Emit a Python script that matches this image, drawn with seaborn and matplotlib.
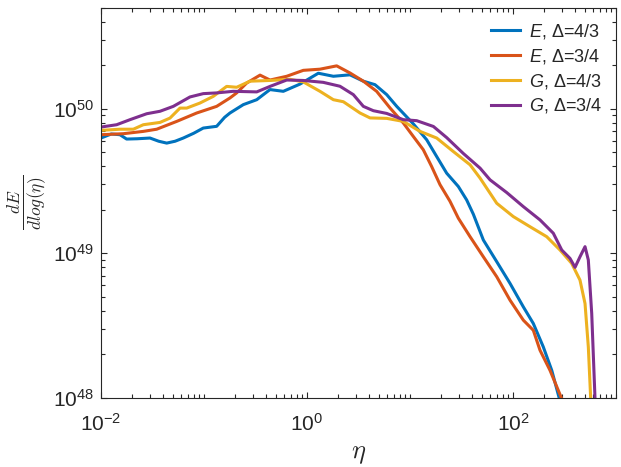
"""Energy spectrum dE/dlog(eta) for the four E/G runs
"""

import numpy as np
import pandas as pd
import matplotlib
matplotlib.use("Agg")
import matplotlib.pyplot as plt
from matplotlib.ticker import LogLocator, NullFormatter
import seaborn as sns

# series names (legend order)
series = [r"$E$, Δ=4/3", r"$E$, Δ=3/4", r"$G$, Δ=4/3", r"$G$, Δ=3/4"]
colors = ["#0072BD", "#D95319", "#EDB120", "#7E2F8E"]

# values, as log10(eta) and log10(dE/dlog eta)
e43_logx = [-2.0, -1.90, -1.816, -1.751, -1.65, -1.524, -1.44, -1.362, -1.28, -1.201,
            -1.10, -1.007, -0.877, -0.80, -0.748, -0.618, -0.488, -0.40, -0.359, -0.23,
            -0.068, 0.11, 0.256, 0.417, 0.547, 0.66, 0.774, 0.871, 1.032, 1.162,
            1.259, 1.356, 1.469, 1.55, 1.615, 1.712, 1.842, 1.971, 2.1, 2.197,
            2.294, 2.376, 2.45, 2.47]
e43_logy = [49.797, 49.825, 49.82, 49.79, 49.792, 49.797, 49.775, 49.762, 49.775, 49.797,
            49.83, 49.866, 49.878, 49.94, 49.97, 50.028, 50.062, 50.11, 50.132, 50.12,
            50.17, 50.245, 50.224, 50.234, 50.19, 50.166, 50.097, 50.016, 49.895, 49.785,
            49.669, 49.554, 49.462, 49.369, 49.27, 49.092, 48.942, 48.792, 48.63, 48.515,
            48.353, 48.191, 47.995, 47.9]

e34_logx = [-2.0, -1.783, -1.589, -1.459, -1.265, -1.071, -0.877, -0.748, -0.683, -0.586,
            -0.456, -0.359, -0.197, -0.036, 0.126, 0.288, 0.417, 0.547, 0.676, 0.806,
            0.935, 1.032, 1.129, 1.21, 1.291, 1.388, 1.469, 1.583, 1.712, 1.842,
            1.971, 2.1, 2.197, 2.262, 2.359, 2.473, 2.49]
e34_logy = [49.82, 49.827, 49.843, 49.858, 49.912, 49.97, 50.016, 50.074, 50.109, 50.177,
            50.232, 50.198, 50.224, 50.265, 50.273, 50.296, 50.247, 50.19, 50.12, 50.005,
            49.901, 49.808, 49.716, 49.6, 49.475, 49.36, 49.243, 49.115, 48.976, 48.838,
            48.676, 48.538, 48.468, 48.33, 48.191, 47.995, 47.9]

g43_logx = [-2.0, -1.816, -1.686, -1.589, -1.427, -1.33, -1.233, -1.168, -1.039, -0.91,
            -0.78, -0.683, -0.553, -0.359, -0.165, -0.036, 0.126, 0.256, 0.353, 0.515,
            0.612, 0.774, 0.935, 1.097, 1.259, 1.42, 1.583, 1.68, 1.842, 2.003,
            2.165, 2.327, 2.456, 2.569, 2.65, 2.699, 2.731, 2.754, 2.76]
g43_logy = [49.85, 49.858, 49.858, 49.889, 49.905, 49.935, 50.004, 50.004, 50.039, 50.085,
            50.154, 50.148, 50.19, 50.195, 50.203, 50.185, 50.12, 50.062, 50.048, 49.97,
            49.936, 49.933, 49.912, 49.843, 49.797, 49.704, 49.612, 49.52, 49.346, 49.254,
            49.184, 49.115, 49.023, 48.931, 48.815, 48.653, 48.353, 47.995, 47.9]

g34_logx = [-2.0, -1.848, -1.718, -1.556, -1.427, -1.298, -1.136, -1.007, -0.877, -0.716,
            -0.488, -0.359, -0.197, -0.036, 0.158, 0.32, 0.45, 0.547, 0.644, 0.774,
            0.935, 1.065, 1.227, 1.356, 1.518, 1.68, 1.777, 1.939, 2.1, 2.262,
            2.391, 2.473, 2.553, 2.602, 2.65, 2.699, 2.731, 2.764, 2.796, 2.80]
g34_logy = [49.873, 49.889, 49.924, 49.965, 49.982, 50.016, 50.081, 50.104, 50.109, 50.12,
            50.116, 50.154, 50.198, 50.195, 50.182, 50.155, 50.097, 50.016, 49.986, 49.967,
            49.924, 49.917, 49.877, 49.8, 49.69, 49.589, 49.508, 49.42, 49.323, 49.231,
            49.139, 49.023, 48.965, 48.903, 48.976, 49.046, 48.954, 48.584, 47.995, 47.9]

# build a long-form table for seaborn
frames = []
for name, lx, ly in zip(series,
                        [e43_logx, e34_logx, g43_logx, g34_logx],
                        [e43_logy, e34_logy, g43_logy, g34_logy]):
    frames.append(pd.DataFrame({"eta": 10.0 ** np.array(lx),
                                "dE": 10.0 ** np.array(ly),
                                "run": name}))
df = pd.concat(frames, ignore_index=True)

plt.rcParams["font.family"] = ["Liberation Sans", "DejaVu Sans"]
plt.rcParams["mathtext.fontset"] = "custom"
plt.rcParams["mathtext.rm"] = "Liberation Sans"
plt.rcParams["mathtext.it"] = "Liberation Sans:italic"
axis_col = "#262626"

fig = plt.figure(figsize=(6.21, 4.67), dpi=100)
ax = fig.add_axes([0.1626, 0.1478, 0.8294, 0.836])

sns.lineplot(data=df, x="eta", y="dE", hue="run", hue_order=series,
             palette=colors, estimator=None, sort=False, linewidth=2.2, ax=ax)

ax.set_xscale("log")
ax.set_yscale("log")
ax.set_xlim(1e-2, 1e3)
ax.set_ylim(1e48, 5e50)

ax.xaxis.set_major_locator(LogLocator(base=100.0, numticks=10))
ax.xaxis.set_minor_locator(LogLocator(base=10.0, subs=np.arange(1, 10), numticks=20))
ax.xaxis.set_minor_formatter(NullFormatter())
ax.yaxis.set_major_locator(LogLocator(base=10.0, numticks=10))
ax.yaxis.set_minor_locator(LogLocator(base=10.0, subs=np.arange(2, 10), numticks=20))
ax.yaxis.set_minor_formatter(NullFormatter())

ax.tick_params(which="both", direction="in", top=True, right=True, color=axis_col,
               labelcolor=axis_col, labelsize=15, width=0.8)
ax.tick_params(which="major", length=4.5, pad=5)
ax.tick_params(which="minor", length=2.8)
ax.tick_params(axis="x", which="major", pad=11)
for sp in ax.spines.values():
    sp.set_color(axis_col)
    sp.set_linewidth(0.8)

ax.set_xlabel(r"$\eta$", fontsize=19, color=axis_col, math_fontfamily="cm", labelpad=5)
ax.set_ylabel(r"$\frac{dE}{dlog(\eta)}$", fontsize=18, color=axis_col,
              math_fontfamily="cm", labelpad=3)

handles, labels = ax.get_legend_handles_labels()
ax.legend(handles, labels, loc="upper right", frameon=False, fontsize=13,
          handlelength=1.6, handletextpad=0.5, labelspacing=0.32,
          borderaxespad=0.4, labelcolor=axis_col)

fig.savefig("out.png", dpi=100)
